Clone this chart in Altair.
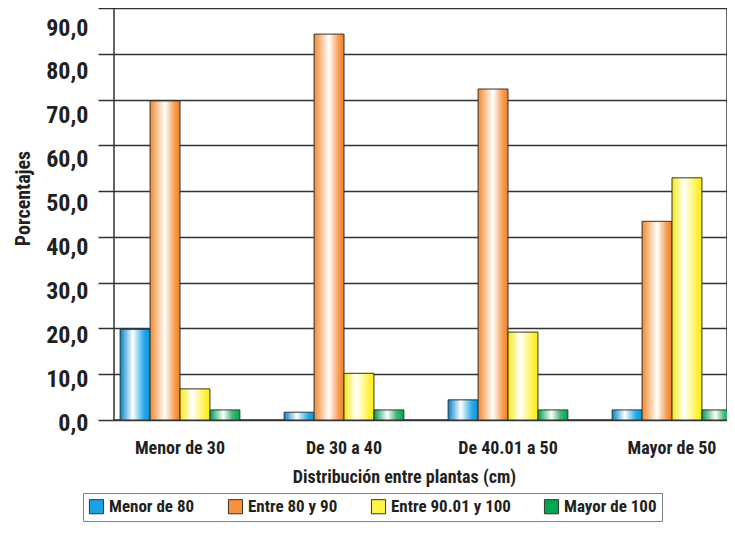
import altair as alt
import pandas as pd

categories = ["Menor de 30", "De 30 a 40", "De 40.01 a 50", "Mayor de 50"]
series = ["Menor de 80", "Entre 80 y 90", "Entre 90.01 y 100", "Mayor de 100"]
menor_80 = [19.8, 1.7, 4.4, 2.2]
entre_80_90 = [69.7, 84.3, 72.3, 43.4]
entre_90_100 = [6.8, 10.2, 19.2, 52.9]
mayor_100 = [2.2, 2.2, 2.2, 2.2]
y_ticks = [0, 10, 20, 30, 40, 50, 60, 70, 80, 90]

legend_colors = ["#1ba1e2", "#f7923a", "#fff34a", "#00a651"]
gradient_stops = [
    [("#0083cc", 0.0), ("#ffffff", 0.42), ("#2aa9e6", 0.8), ("#0098dc", 1.0)],
    [("#f28a2e", 0.0), ("#ffffff", 0.5), ("#f7a35c", 0.8), ("#f07d1e", 1.0)],
    [("#f5ea10", 0.0), ("#ffffff", 0.4), ("#fff56a", 0.75), ("#ffec00", 1.0)],
    [("#009a4e", 0.0), ("#ffffff", 0.45), ("#40b878", 0.75), ("#00a651", 1.0)],
]

values = [menor_80, entre_80_90, entre_90_100, mayor_100]
rows = []
for s, vals in zip(series, values):
    for c, v in zip(categories, vals):
        rows.append({"cat": c, "serie": s, "valor": v})
df = pd.DataFrame(rows)

font = "Roboto Condensed, Roboto, sans-serif"
text_color = "#231f20"

x_enc = alt.X(
    "cat:N",
    sort=categories,
    scale=alt.Scale(range=[-16, 640], paddingInner=0.27, paddingOuter=0.135),
    axis=alt.Axis(
        title="Distribución entre plantas (cm)",
        labelAngle=0,
        domain=False,
        ticks=False,
        grid=False,
        labelPadding=19,
        labelFontSize=18,
        titleFontSize=18,
        titlePadding=11,
        titleX=290,
    ),
)
xo_enc = alt.XOffset(
    "serie:N",
    sort=series,
    scale=alt.Scale(domain=series, paddingInner=0, paddingOuter=0),
)
y_enc = alt.Y(
    "valor:Q",
    scale=alt.Scale(domain=[0, 90], nice=False),
    axis=alt.Axis(
        title="Porcentajes",
        values=y_ticks,
        labelExpr="replace(format(datum.value, '.1f'), '.', ',')",
        grid=True,
        gridColor="#333333",
        gridWidth=1.5,
        domain=False,
        ticks=False,
        labelPadding=26,
        labelFontSize=24,
        labelOffset={"expr": "3 + datum.value * 0.19"},
        titleFontSize=20,
        titlePadding=12,
        titleY=190,
    ),
)
color_enc = alt.Color(
    "serie:N",
    scale=alt.Scale(domain=series, range=legend_colors),
    legend=alt.Legend(
        title=None,
        orient="none",
        legendX=-31,
        legendY=485,
        direction="horizontal",
        columns=4,
        symbolType="square",
        symbolSize=200,
        symbolStrokeColor="#333333",
        symbolStrokeWidth=1,
        labelFont=font,
        labelFontWeight="bold",
        labelFontSize=17,
        labelColor=text_color,
        labelOffset=4,
        columnPadding=31,
        padding=5,
        strokeColor="#808080",
        fillColor="white",
    ),
)

layers = []
for s, stops in zip(series, gradient_stops):
    grad = alt.LinearGradient(
        gradient="linear",
        stops=[alt.GradientStop(color=c, offset=o) for c, o in stops],
        x1=0, x2=1, y1=0, y2=0,
    )
    layers.append(
        alt.Chart()
        .transform_filter(alt.datum.serie == s)
        .mark_bar(fill=grad, stroke="#333333", strokeWidth=1, clip=True)
        .encode(x=x_enc, xOffset=xo_enc, y=y_enc, color=color_enc)
    )

chart = (
    alt.layer(*layers, data=df)
    .properties(
        width=613,
        height=412,
        padding={"left": 106, "top": 0, "right": 0, "bottom": 105},
        autosize=alt.AutoSizeParams(type="none"),
        background="white",
    )
    .configure_view(stroke="#333333", strokeWidth=1.5)
    .configure_axis(
        labelFont=font,
        titleFont=font,
        labelFontWeight="bold",
        titleFontWeight="bold",
        labelColor=text_color,
        titleColor=text_color,
    )
)

chart.save("out.html", embed_options={"renderer": "svg", "actions": False})
